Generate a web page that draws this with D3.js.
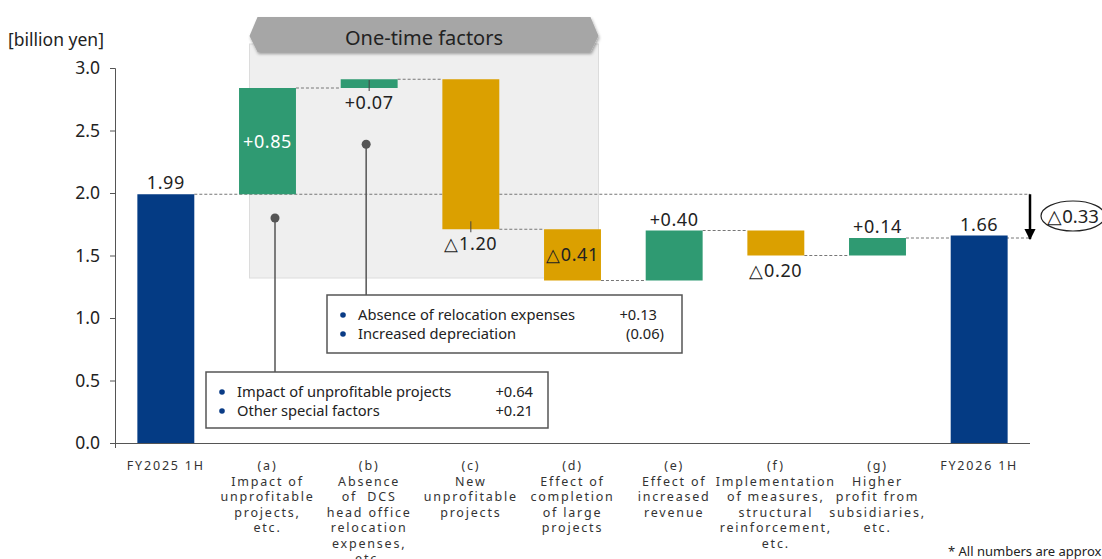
<!DOCTYPE html>
<html>
<head>
<meta charset="utf-8">
<script src="https://cdn.jsdelivr.net/npm/d3@7"></script>
<style>
  html, body { margin: 0; padding: 0; background: #fff; }
  svg { display: block; font-family: "Noto Sans", "Open Sans", sans-serif; }
</style>
</head>
<body>
<svg id="chart" width="1102" height="559"></svg>
<script>
// Operating profit bridge, FY2025 1H -> FY2026 1H
const categories = ["FY2025 1H", "a", "b", "c", "d", "e", "f", "g", "FY2026 1H"];
const categoryLabels = [
  ["FY2025 1H"],
  ["(a)", "Impact of", "unprofitable", "projects,", "etc."],
  ["(b)", "Absence", "of\u00a0\u00a0DCS", "head office", "relocation", "expenses,", "etc."],
  ["(c)", "New", "unprofitable", "projects"],
  ["(d)", "Effect of", "completion", "of large", "projects"],
  ["(e)", "Effect of", "increased", "revenue"],
  ["(f)", "Implementation", "of measures,", "structural", "reinforcement,", "etc."],
  ["(g)", "Higher", "profit from", "subsidiaries,", "etc."],
  ["FY2026 1H"]
];
const startValue = 1.99;
const endValue = 1.66;
const deltas = [0.85, 0.07, -1.20, -0.41, 0.40, -0.20, 0.14];
const valueLabels = ["1.99", "+0.85", "+0.07", "△1.20", "△0.41", "+0.40", "△0.20", "+0.14", "1.66"];
const yTicks = [0, 0.5, 1.0, 1.5, 2.0, 2.5, 3.0];
const totalChange = "△0.33";
const calloutA = [["Impact of unprofitable projects", "+0.64"], ["Other special factors", "+0.21"]];
const calloutB = [["Absence of relocation expenses", "+0.13"], ["Increased depreciation", "(0.06)"]];

const colors = { total: "#043b84", up: "#2f9a72", down: "#dba000" };

const svg = d3.select("#chart");
const x = d3.scaleBand().domain(categories).range([115, 1030]).paddingInner(0.44).paddingOuter(0.22);
const y = d3.scaleLinear().domain([0, 3]).range([443, 68]);

// build waterfall segments
const bars = [];
bars.push({ key: categories[0], y0: 0, y1: startValue, type: "total" });
let run = startValue;
deltas.forEach((d, i) => {
  const from = run; run = +(run + d).toFixed(2);
  bars.push({ key: categories[i + 1], y0: from, y1: run, type: d >= 0 ? "up" : "down" });
});
bars.push({ key: categories[8], y0: 0, y1: endValue, type: "total" });

// "One-time factors" shaded panel
const panelL = x("a") + x.bandwidth() / 2 - 18, panelR = x("d") + x.bandwidth() / 2 + 26;
svg.append("rect").attr("x", panelL).attr("y", 44).attr("width", panelR - panelL)
  .attr("height", y(1.32) - 44).attr("fill", "#efefef").attr("stroke", "#dcdcdc");

const defs = svg.append("defs");
const f = defs.append("filter").attr("id", "shadow").attr("x", "-10%").attr("y", "-30%").attr("width", "120%").attr("height", "170%");
f.append("feDropShadow").attr("dx", 1).attr("dy", 2).attr("stdDeviation", 1.5).attr("flood-color", "#000").attr("flood-opacity", 0.35);
svg.append("polygon")
  .attr("points", [[panelL, 36], [panelL + 8, 17], [panelR - 8, 17], [panelR, 36], [panelR - 8, 52], [panelL + 8, 52]].map(p => p.join(",")).join(" "))
  .attr("fill", "#a6a6a6").attr("filter", "url(#shadow)");
svg.append("text").attr("x", (panelL + panelR) / 2).attr("y", 45).attr("text-anchor", "middle")
  .attr("font-size", 20).attr("fill", "#222").text("One-time factors");

// dashed connectors
const dash = (x1, x2, v) => svg.append("line").attr("x1", x1).attr("x2", x2).attr("y1", y(v)).attr("y2", y(v))
  .attr("stroke", "#777").attr("stroke-width", 1).attr("stroke-dasharray", "3,2");
const xEnd = 1030;
dash(x(categories[0]) + x.bandwidth(), xEnd, startValue);
for (let i = 1; i < bars.length - 2; i++) {
  dash(x(bars[i].key) + x.bandwidth(), x(bars[i + 1].key), bars[i].y1);
}
dash(x(bars[7].key) + x.bandwidth(), xEnd, bars[7].y1);

// axes
const yAxis = svg.append("g").attr("transform", "translate(115,0)")
  .call(d3.axisLeft(y).tickValues(yTicks).tickFormat(d3.format(".1f")).tickSize(5).tickPadding(10));
yAxis.select(".domain").attr("stroke", "#555").attr("d", "M-5,68.5H0.5V448");
yAxis.selectAll(".tick line").attr("stroke", "#555");
yAxis.selectAll(".tick text").attr("font-size", 17.5).attr("fill", "#222").attr("font-family", "Noto Sans");

const xAxis = svg.append("g").attr("transform", "translate(0,443)")
  .call(d3.axisBottom(x).tickSize(0).tickPadding(0).tickFormat(""));
xAxis.select(".domain").attr("stroke", "#555").attr("d", "M115,0.5H1030");
xAxis.selectAll(".tick").each(function (d, i) {
  const t = d3.select(this).append("text").attr("fill", "#333").attr("font-size", 12.5)
    .attr("letter-spacing", 1.8).attr("text-anchor", "middle").attr("font-family", "Noto Sans");
  categoryLabels[i].forEach((line, j) => {
    t.append("tspan").attr("x", 0).attr("y", 27 + j * 15.5).text(line);
  });
});

// bars
svg.append("g").selectAll("rect").data(bars).join("rect")
  .attr("x", d => x(d.key)).attr("width", x.bandwidth())
  .attr("y", d => y(Math.max(d.y0, d.y1))).attr("height", d => Math.abs(y(d.y0) - y(d.y1)))
  .attr("fill", d => colors[d.type]);

// value labels
const cx = k => x(k) + x.bandwidth() / 2;
const labelPos = ["above", "inside", "below", "below", "inside", "above", "below", "above", "above"];
const leaderTick = [false, false, true, true, false, false, false, false, false];
bars.forEach((b, i) => {
  const top = y(Math.max(b.y0, b.y1)), bot = y(Math.min(b.y0, b.y1));
  let ty, fill = "#222";
  if (labelPos[i] === "above") ty = top - 5;
  else if (labelPos[i] === "below") ty = bot + 21;
  else { ty = (top + bot) / 2 + 6.5; fill = b.type === "up" ? "#fff" : "#222"; }
  svg.append("text").attr("x", cx(b.key)).attr("y", ty).attr("text-anchor", "middle")
    .attr("font-size", 18).attr("letter-spacing", 0.6).attr("fill", fill).text(valueLabels[i]);
  if (leaderTick[i]) {
    svg.append("line").attr("x1", cx(b.key)).attr("x2", cx(b.key)).attr("y1", bot - 8).attr("y2", bot + 3)
      .attr("stroke", "#444").attr("stroke-width", 1);
  }
});

// callouts
function callout(px, py, box, rows, valueEnds) {
  svg.append("line").attr("x1", px).attr("x2", px).attr("y1", y(py)).attr("y2", box.y)
    .attr("stroke", "#555").attr("stroke-width", 1.5);
  svg.append("circle").attr("cx", px).attr("cy", y(py)).attr("r", 4.5).attr("fill", "#555");
  svg.append("rect").attr("x", box.x).attr("y", box.y).attr("width", box.w).attr("height", box.h)
    .attr("fill", "#fff").attr("stroke", "#555").attr("stroke-width", 1.5);
  rows.forEach((r, j) => {
    const cy = box.y + 20 + j * 19;
    svg.append("circle").attr("cx", box.x + 16).attr("cy", cy).attr("r", 2.8).attr("fill", "#0a3c86");
    svg.append("text").attr("x", box.x + 31).attr("y", cy + 5).attr("font-size", 14.7).attr("fill", "#222").text(r[0]);
    svg.append("text").attr("x", valueEnds[j]).attr("y", cy + 5).attr("font-size", 14.7)
      .attr("text-anchor", "end").attr("fill", "#222").text(r[1]);
  });
}
callout(cx("a") + 7.5, 1.8, { x: 206, y: 372, w: 342, h: 56 }, calloutA, [533, 533]);
callout(cx("b") - 3, 2.39, { x: 327, y: 295, w: 355, h: 58 }, calloutB, [657, 664]);

// total change arrow
defs.append("marker").attr("id", "arrow").attr("viewBox", "0 0 10 10").attr("refX", 9).attr("refY", 5)
  .attr("markerWidth", 4.5).attr("markerHeight", 4.5).attr("orient", "auto")
  .append("path").attr("d", "M0,0L10,5L0,10Z").attr("fill", "#000");
svg.append("line").attr("x1", xEnd).attr("x2", xEnd).attr("y1", y(startValue)).attr("y2", y(bars[7].y1) + 1)
  .attr("stroke", "#000").attr("stroke-width", 2.5).attr("marker-end", "url(#arrow)");
svg.append("ellipse").attr("cx", 1073).attr("cy", 216).attr("rx", 32).attr("ry", 15)
  .attr("fill", "none").attr("stroke", "#222").attr("stroke-width", 1.2);
svg.append("text").attr("x", 1073).attr("y", 222.5).attr("text-anchor", "middle").attr("font-size", 18.5)
  .attr("fill", "#222").text(totalChange);

// titles and notes
svg.append("text").attr("x", 8).attr("y", 46).attr("font-size", 17.5).attr("fill", "#222").text("[billion yen]");
svg.append("text").attr("x", 948).attr("y", 556).attr("font-size", 13).attr("fill", "#222").text("* All numbers are approximate.");
</script>
</body>
</html>
